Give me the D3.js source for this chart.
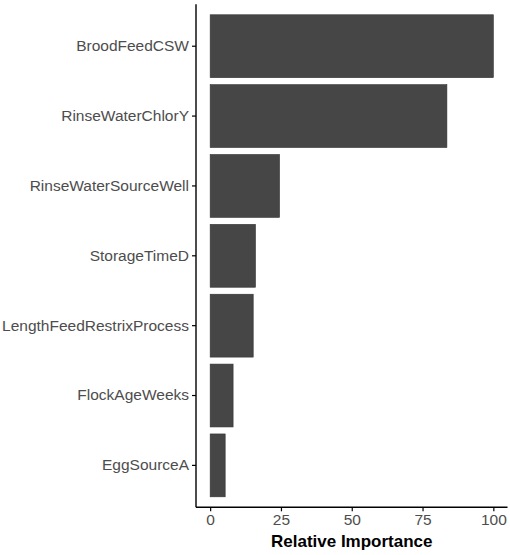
<!DOCTYPE html>
<html lang="en">
<head>
<meta charset="UTF-8">
<title>Relative Importance</title>
<style>
    body { margin: 0; background: #fff; }
    .axis path, .axis line { fill: none; stroke: black; }
    .axis text { font-family: "Liberation Sans", Arial, sans-serif; font-size: 15.5px; fill: #4d4d4d; }
</style>
</head>
<body>
<script src="https://cdn.jsdelivr.net/npm/d3@7"></script>
<script>
    var width = 510;
    var height = 555;

    var variables = ["BroodFeedCSW", "RinseWaterChlorY", "RinseWaterSourceWell", "StorageTimeD",
                     "LengthFeedRestrixProcess", "FlockAgeWeeks", "EggSourceA"];
    var importance = [100, 83.6, 24.5, 16.0, 15.2, 8.1, 5.3];
    var xTicks = [0, 25, 50, 75, 100];

    var panelLeft = 196, panelRight = 507.5, panelTop = 4.3, panelBottom = 507.3;

    var svg = d3.select("body").append("svg")
        .attr("width", width)
        .attr("height", height);

    // ggplot-style expansion: 5% on x, 0.6 units on discrete y
    var x = d3.scaleLinear()
        .domain([-5, 105])
        .range([panelLeft, panelRight]);

    var y = d3.scaleBand()
        .domain(variables)
        .range([panelTop, panelBottom])
        .paddingInner(0.1)
        .paddingOuter(0.15);

    svg.selectAll("rect.bar")
        .data(variables)
        .enter()
        .append("rect")
        .attr("class", "bar")
        .attr("x", x(0))
        .attr("y", function(d) { return y(d); })
        .attr("width", function(d, i) { return x(importance[i]) - x(0); })
        .attr("height", y.bandwidth())
        .attr("fill", "#464646")
        .attr("stroke", "#333")
        .attr("stroke-width", 0.6);

    var xAxis = d3.axisBottom(x).tickValues(xTicks).tickSize(4).tickPadding(3);
    var gx = svg.append("g")
        .attr("class", "axis")
        .attr("transform", "translate(0," + panelBottom + ")")
        .call(xAxis);
    gx.select(".domain").attr("d", "M" + panelLeft + ",0H" + panelRight).attr("stroke-width", 1.4);
    gx.selectAll(".tick line").attr("stroke-width", 1.2);

    var yAxis = d3.axisLeft(y).tickSize(4).tickPadding(3);
    var gy = svg.append("g")
        .attr("class", "axis")
        .attr("transform", "translate(" + panelLeft + ",0)")
        .call(yAxis);
    gy.select(".domain").attr("d", "M0," + panelTop + "V" + panelBottom).attr("stroke-width", 1.4);
    gy.selectAll(".tick line").attr("stroke-width", 1.2);

    svg.append("text")
        .attr("x", (panelLeft + panelRight) / 2)
        .attr("y", 547)
        .attr("text-anchor", "middle")
        .style("font-family", "Liberation Sans, Arial, sans-serif")
        .style("font-size", "17px")
        .style("font-weight", "bold")
        .text("Relative Importance");
</script>
</body>
</html>
